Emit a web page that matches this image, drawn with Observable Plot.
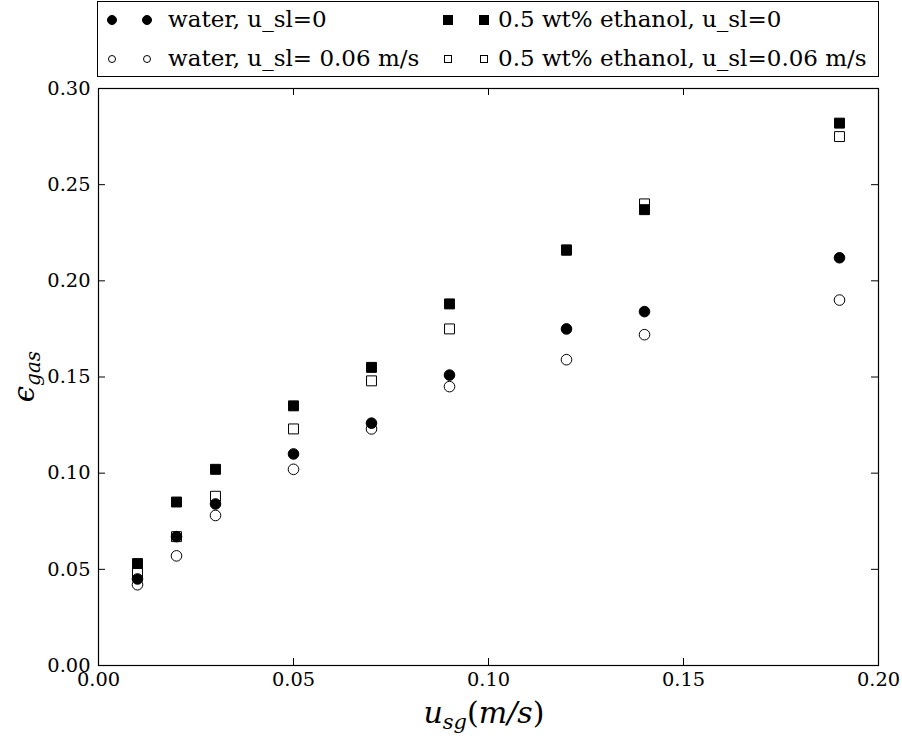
<!DOCTYPE html>
<html>
<head>
<meta charset="utf-8">
<script src="https://cdn.jsdelivr.net/npm/d3@7"></script>
<script src="https://cdn.jsdelivr.net/npm/@observablehq/plot@0.6"></script>
<style>
  body { margin: 0; background: #fff; }
  #fig { position: relative; width: 902px; height: 736px; }
  #legend {
    position: absolute; left: 97px; top: 1px; width: 780px; height: 74px;
    border: 1px solid #000; background: #fff; box-sizing: content-box;
    font-family: "DejaVu Serif", serif; font-size: 23px; color: #000;
  }
  .mk { position: absolute; box-sizing: border-box; border: 1px solid #000; }
  .txt { position: absolute; white-space: nowrap; line-height: 1; }
  .circ { border-radius: 50%; }
  .filled { background: #000; }
  .open { background: #fff; }
</style>
</head>
<body>
<div id="fig">
  <div id="chart"></div>
  <div id="legend"></div>
</div>
<script>
// ---- data ----
const usg = [0.01, 0.02, 0.03, 0.05, 0.07, 0.09, 0.12, 0.14, 0.19];
const water0 = [0.045, 0.067, 0.084, 0.110, 0.126, 0.151, 0.175, 0.184, 0.212];
const water006 = [0.042, 0.057, 0.078, 0.102, 0.123, 0.145, 0.159, 0.172, 0.190];
const eth0 = [0.053, 0.085, 0.102, 0.135, 0.155, 0.188, 0.216, 0.237, 0.282];
const eth006 = [0.048, 0.067, 0.088, 0.123, 0.148, 0.175, 0.216, 0.240, 0.275];
const seriesNames = ["water, u_sl=0", "water, u_sl= 0.06 m/s", "0.5 wt% ethanol, u_sl=0", "0.5 wt% ethanol, u_sl=0.06 m/s"];
const xTicks = [0.00, 0.05, 0.10, 0.15, 0.20];
const yTicks = [0.00, 0.05, 0.10, 0.15, 0.20, 0.25, 0.30];

const rows = (ys) => usg.map((x, i) => ({x, y: ys[i]}));

const W = 902, H = 736, mL = 98, mR = 24, mT = 88, mB = 71;
const pw = W - mL - mR, ph = H - mT - mB;
const tickLen = 7;
const fontTick = "DejaVu Serif";

const plot = Plot.plot({
  width: W, height: H,
  marginLeft: mL, marginRight: mR, marginTop: mT, marginBottom: mB,
  style: {background: "#fff", overflow: "visible"},
  x: {domain: [0, 0.2], ticks: xTicks},
  y: {domain: [0, 0.3], ticks: yTicks},
  marks: [
    // inward ticks on all four sides
    Plot.tickY(yTicks, {y: d => d, stroke: "#000", strokeWidth: 1, insetRight: pw - tickLen}),
    Plot.tickY(yTicks, {y: d => d, stroke: "#000", strokeWidth: 1, insetLeft: pw - tickLen}),
    Plot.tickX(xTicks, {x: d => d, stroke: "#000", strokeWidth: 1, insetTop: ph - tickLen}),
    Plot.tickX(xTicks, {x: d => d, stroke: "#000", strokeWidth: 1, insetBottom: ph - tickLen}),
    // tick labels
    Plot.axisY({ticks: yTicks, tickSize: 0, tickPadding: 8, tickFormat: d => d.toFixed(2), label: null,
      fontSize: 19.4, fontFamily: fontTick, fill: "#000"}),
    Plot.axisX({ticks: xTicks, tickSize: 0, tickPadding: 7, tickFormat: d => d.toFixed(2), label: null,
      fontSize: 19.4, fontFamily: fontTick, fill: "#000"}),
    // data
    Plot.dot(rows(water006), {x: "x", y: "y", r: 5.3, symbol: "circle", fill: "#fff", stroke: "#000", strokeWidth: 1}),
    Plot.dot(rows(eth006), {x: "x", y: "y", r: 5.6, symbol: "square", fill: "#fff", stroke: "#000", strokeWidth: 1}),
    Plot.dot(rows(eth0), {x: "x", y: "y", r: 5.6, symbol: "square", fill: "#000", stroke: "#000", strokeWidth: 1}),
    Plot.dot(rows(water0), {x: "x", y: "y", r: 5.3, symbol: "circle", fill: "#000", stroke: "#000", strokeWidth: 1}),
    Plot.frame({stroke: "#000", strokeWidth: 1.2})
  ]
});
document.getElementById("chart").appendChild(plot);

// axis labels with subscripts (real text)
const svg = d3.select(plot);
const xl = svg.append("text")
  .attr("x", 484).attr("y", 723)
  .attr("text-anchor", "middle")
  .attr("font-family", "DejaVu Serif, serif").attr("font-style", "italic")
  .attr("font-size", 30).attr("fill", "#000");
xl.append("tspan").text("u");
xl.append("tspan").attr("font-size", 21).attr("dy", 6).text("sg");
xl.append("tspan").attr("dy", -6).attr("font-style", "normal").text("(");
xl.append("tspan").text("m/s");
xl.append("tspan").attr("font-style", "normal").text(")");

const yl = svg.append("text")
  .attr("transform", `translate(34, ${mT + ph / 2}) rotate(-90)`)
  .attr("text-anchor", "middle")
  .attr("font-family", "DejaVu Serif, serif").attr("font-style", "italic")
  .attr("font-size", 29).attr("fill", "#000");
yl.append("tspan").text("\u03F5");
yl.append("tspan").attr("font-size", 20).attr("dy", 6).text("gas");

// legend (HTML overlay above the plot area)
const legend = document.getElementById("legend");
const specs = [
  {name: seriesNames[0], cls: "circ filled", size: 10, m: [14, 49], tx: 70, cy: 18},
  {name: seriesNames[1], cls: "circ open", size: 8, m: [14, 49], tx: 70, cy: 57},
  {name: seriesNames[2], cls: "filled", size: 10, m: [350, 386], tx: 400, cy: 18},
  {name: seriesNames[3], cls: "open", size: 8, m: [350, 386], tx: 400, cy: 57}
];
for (const s of specs) {
  for (const cx of s.m) {
    const mk = document.createElement("span");
    mk.className = "mk " + s.cls;
    mk.style.width = s.size + "px"; mk.style.height = s.size + "px";
    mk.style.left = (cx - s.size / 2) + "px";
    mk.style.top = (s.cy - s.size / 2) + "px";
    legend.appendChild(mk);
  }
  const t = document.createElement("span");
  t.className = "txt";
  t.textContent = s.name;
  t.style.left = s.tx + "px";
  t.style.top = (s.cy - 12.5) + "px";
  legend.appendChild(t);
}
</script>
</body>
</html>
